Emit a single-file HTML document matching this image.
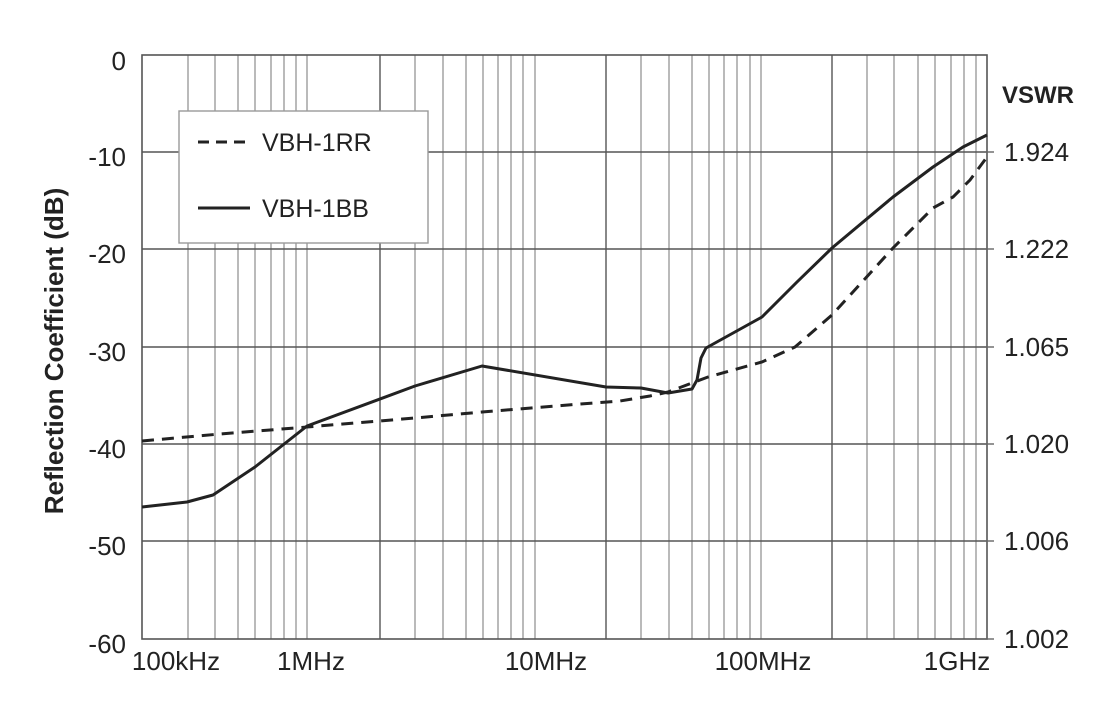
<!DOCTYPE html>
<html><head><meta charset="utf-8"><style>
html,body{margin:0;padding:0;background:#fff;}
svg{display:block;font-family:"Liberation Sans",sans-serif;}
</style></head><body>
<svg width="1108" height="720" viewBox="0 0 1108 720" xmlns="http://www.w3.org/2000/svg">
<g stroke="#a8a8a8" stroke-width="1.6">
<line x1="188" y1="55" x2="188" y2="639"/><line x1="215" y1="55" x2="215" y2="639"/><line x1="238" y1="55" x2="238" y2="639"/><line x1="255" y1="55" x2="255" y2="639"/><line x1="271" y1="55" x2="271" y2="639"/><line x1="284" y1="55" x2="284" y2="639"/><line x1="296" y1="55" x2="296" y2="639"/><line x1="307" y1="55" x2="307" y2="639"/>
<line x1="415" y1="55" x2="415" y2="639"/><line x1="443" y1="55" x2="443" y2="639"/><line x1="466" y1="55" x2="466" y2="639"/><line x1="483" y1="55" x2="483" y2="639"/><line x1="498" y1="55" x2="498" y2="639"/><line x1="511" y1="55" x2="511" y2="639"/><line x1="523" y1="55" x2="523" y2="639"/><line x1="535" y1="55" x2="535" y2="639"/>
<line x1="641" y1="55" x2="641" y2="639"/><line x1="669" y1="55" x2="669" y2="639"/><line x1="692" y1="55" x2="692" y2="639"/><line x1="709" y1="55" x2="709" y2="639"/><line x1="724" y1="55" x2="724" y2="639"/><line x1="737" y1="55" x2="737" y2="639"/><line x1="750" y1="55" x2="750" y2="639"/><line x1="761" y1="55" x2="761" y2="639"/>
<line x1="867" y1="55" x2="867" y2="639"/><line x1="894" y1="55" x2="894" y2="639"/><line x1="918" y1="55" x2="918" y2="639"/><line x1="935" y1="55" x2="935" y2="639"/><line x1="951" y1="55" x2="951" y2="639"/><line x1="964" y1="55" x2="964" y2="639"/><line x1="976" y1="55" x2="976" y2="639"/>
</g>
<g stroke="#555" stroke-width="1.4">
<line x1="380" y1="55" x2="380" y2="639"/><line x1="606" y1="55" x2="606" y2="639"/><line x1="832" y1="55" x2="832" y2="639"/>
<line x1="142" y1="152" x2="987" y2="152"/><line x1="142" y1="249" x2="987" y2="249"/><line x1="142" y1="347" x2="987" y2="347"/><line x1="142" y1="444" x2="987" y2="444"/><line x1="142" y1="541" x2="987" y2="541"/>
</g>
<rect x="142" y="55" width="845" height="584" fill="none" stroke="#555" stroke-width="1.6"/>
<g stroke="#666" stroke-width="1.4"><line x1="980" y1="152" x2="994" y2="152"/><line x1="980" y1="249" x2="994" y2="249"/><line x1="980" y1="347" x2="994" y2="347"/><line x1="980" y1="444" x2="994" y2="444"/><line x1="980" y1="541" x2="994" y2="541"/><line x1="980" y1="639" x2="994" y2="639"/></g>
<rect x="179" y="111" width="249" height="132" fill="#fff" stroke="#999" stroke-width="1.4"/>
<line x1="198" y1="142" x2="250" y2="142" stroke="#222" stroke-width="3" stroke-dasharray="11,7"/>
<line x1="198" y1="208" x2="250" y2="208" stroke="#222" stroke-width="3"/>
<g font-size="25" fill="#222">
<text x="262" y="151">VBH-1RR</text><text x="262" y="217">VBH-1BB</text>
</g>
<path d="M142,441 L220,434 L307,427 L415,418 L482,412 L580,404 L620,401 L650,396 L668,392 L708,377 L762,362 L795,347 L832,315 L893,248 L933,208 L953,197 L970,180 L987,157" fill="none" stroke="#222" stroke-width="3" stroke-dasharray="12,8"/>
<path d="M142,507 L187,502 L213,495 L255,467 L307,426 L415,386 L482,366 L606,387 L641,388 L668,393 L692,389 L697,380 L701,358 L706,348 L762,317 L797,282 L832,248 L893,197 L933,167 L963,147 L987,135" fill="none" stroke="#222" stroke-width="3" stroke-linejoin="round"/>
<g font-size="26" fill="#222" text-anchor="end">
<text x="126" y="70">0</text><text x="126" y="166">-10</text><text x="126" y="263">-20</text><text x="126" y="361">-30</text><text x="126" y="458">-40</text><text x="126" y="555">-50</text><text x="126" y="653">-60</text>
</g>
<g font-size="26" fill="#222">
<text x="1004" y="161">1.924</text><text x="1004" y="258">1.222</text><text x="1004" y="356">1.065</text><text x="1004" y="453">1.020</text><text x="1004" y="550">1.006</text><text x="1004" y="648">1.002</text>
<text x="1002" y="103" font-weight="bold" font-size="24">VSWR</text>
</g>
<g font-size="26" fill="#222" text-anchor="middle">
<text x="176" y="670">100kHz</text><text x="311" y="670">1MHz</text><text x="546" y="670">10MHz</text><text x="763" y="670">100MHz</text><text x="957" y="670">1GHz</text>
</g>
<text transform="translate(63,351) rotate(-90)" text-anchor="middle" font-size="26" font-weight="bold" fill="#222">Reflection Coefficient (dB)</text>
</svg>
</body></html>
